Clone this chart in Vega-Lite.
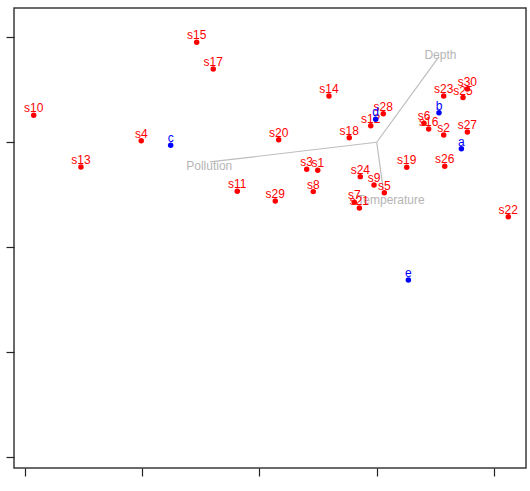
{
  "$schema": "https://vega.github.io/schema/vega-lite/v6.json",
  "width": 512,
  "height": 460,
  "autosize": "none",
  "padding": {"left": 14, "top": 8, "right": 4, "bottom": 23},
  "background": "white",
  "config": {
    "view": {"stroke": "#3a3a3a", "strokeWidth": 1.5},
    "font": "Liberation Sans"
  },
  "datasets": {
    "sites": [
      {"label": "s1", "x": -0.503, "y": -0.267},
      {"label": "s2", "x": 0.571, "y": 0.070},
      {"label": "s3", "x": -0.597, "y": -0.258},
      {"label": "s4", "x": -2.008, "y": 0.015},
      {"label": "s5", "x": 0.065, "y": -0.481},
      {"label": "s6", "x": 0.403, "y": 0.181},
      {"label": "s7", "x": -0.191, "y": -0.573},
      {"label": "s8", "x": -0.541, "y": -0.471},
      {"label": "s9", "x": -0.023, "y": -0.407},
      {"label": "s10", "x": -2.925, "y": 0.258},
      {"label": "s11", "x": -1.189, "y": -0.468},
      {"label": "s12", "x": -0.051, "y": 0.158},
      {"label": "s13", "x": -2.522, "y": -0.236},
      {"label": "s14", "x": -0.407, "y": 0.442},
      {"label": "s15", "x": -1.535, "y": 0.954},
      {"label": "s16", "x": 0.443, "y": 0.127},
      {"label": "s17", "x": -1.394, "y": 0.699},
      {"label": "s18", "x": -0.234, "y": 0.044},
      {"label": "s19", "x": 0.256, "y": -0.239},
      {"label": "s20", "x": -0.836, "y": 0.025},
      {"label": "s21", "x": -0.148, "y": -0.627},
      {"label": "s22", "x": 1.122, "y": -0.710},
      {"label": "s23", "x": 0.571, "y": 0.442},
      {"label": "s24", "x": -0.140, "y": -0.328},
      {"label": "s25", "x": 0.736, "y": 0.426},
      {"label": "s26", "x": 0.580, "y": -0.229},
      {"label": "s27", "x": 0.773, "y": 0.098},
      {"label": "s28", "x": 0.056, "y": 0.273},
      {"label": "s29", "x": -0.865, "y": -0.560},
      {"label": "s30", "x": 0.773, "y": 0.509}
    ],
    "species": [
      {"label": "a", "x": 0.722, "y": -0.061},
      {"label": "b", "x": 0.531, "y": 0.282},
      {"label": "c", "x": -1.757, "y": -0.029},
      {"label": "d", "x": -0.009, "y": 0.219},
      {"label": "e", "x": 0.270, "y": -1.314}
    ],
    "vars": [
      {"label": "Depth", "x0": 0, "y0": 0, "x": 0.531, "y": 0.817, "lx": 0.543, "ly": 0.837},
      {"label": "Pollution", "x0": 0, "y0": 0, "x": -1.422, "y": -0.188, "lx": -1.428, "ly": -0.223},
      {"label": "Temperature", "x0": 0, "y0": 0, "x": 0.056, "y": -0.455, "lx": 0.122, "ly": -0.551}
    ]
  },
  "encoding": {
    "x": {
      "type": "quantitative",
      "scale": {"domain": [-3.093, 1.273], "nice": false, "zero": false},
      "axis": {"title": null, "labels": false, "grid": false, "domain": false, "values": [-3, -2, -1, 0, 1], "tickSize": 8, "tickColor": "#222222", "tickWidth": 1.2}
    },
    "y": {
      "type": "quantitative",
      "scale": {"domain": [-3.108, 1.281], "nice": false, "zero": false},
      "axis": {"title": null, "labels": false, "grid": false, "domain": false, "values": [-3, -2, -1, 0, 1], "tickSize": 8, "tickColor": "#222222", "tickWidth": 1.2}
    }
  },
  "layer": [
    {
      "mark": {"type": "rule", "color": "#d0d0d0", "strokeDash": [4, 3], "strokeWidth": 1},
      "encoding": {"y": {"datum": 0}}
    },
    {
      "mark": {"type": "rule", "color": "#d0d0d0", "strokeDash": [4, 3], "strokeWidth": 1},
      "encoding": {"x": {"datum": 0}}
    },
    {
      "data": {"name": "vars"},
      "mark": {"type": "rule", "color": "#bdbdbd", "strokeWidth": 1.2},
      "encoding": {
        "x": {"field": "x0"},
        "y": {"field": "y0"},
        "x2": {"field": "x"},
        "y2": {"field": "y"}
      }
    },
    {
      "data": {"name": "vars"},
      "mark": {"type": "text", "color": "#b5b5b5", "fontSize": 12, "align": "center", "baseline": "middle"},
      "encoding": {
        "x": {"field": "lx"},
        "y": {"field": "ly"},
        "text": {"field": "label"}
      }
    },
    {
      "data": {"name": "sites"},
      "mark": {"type": "circle", "color": "#ff0000", "opacity": 1, "size": 30},
      "encoding": {"x": {"field": "x"}, "y": {"field": "y"}}
    },
    {
      "data": {"name": "sites"},
      "mark": {"type": "text", "color": "#ff0000", "fontSize": 12, "align": "center", "baseline": "middle", "dy": -7},
      "encoding": {"x": {"field": "x"}, "y": {"field": "y"}, "text": {"field": "label"}}
    },
    {
      "data": {"name": "species"},
      "mark": {"type": "circle", "color": "#0000ff", "opacity": 1, "size": 30},
      "encoding": {"x": {"field": "x"}, "y": {"field": "y"}}
    },
    {
      "data": {"name": "species"},
      "mark": {"type": "text", "color": "#0000ff", "fontSize": 12, "align": "center", "baseline": "middle", "dy": -7},
      "encoding": {"x": {"field": "x"}, "y": {"field": "y"}, "text": {"field": "label"}}
    }
  ]
}
